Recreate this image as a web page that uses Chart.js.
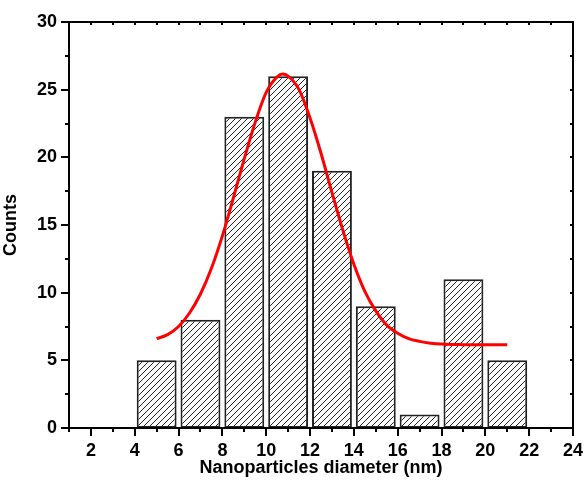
<!DOCTYPE html>
<html>
<head>
<meta charset="utf-8">
<script src="https://cdn.jsdelivr.net/npm/chart.js@4"></script>
<style>
html,body{margin:0;padding:0;background:#fff;}
canvas{display:block;}
</style>
</head>
<body>
<canvas id="c" width="587" height="483"></canvas>
<script>
// ---- data ----
const binCenters = [5, 7, 9, 11, 13, 15, 17, 19, 21];
const counts = [5, 8, 23, 26, 19, 9, 1, 11, 5];
const fitX = [5, 5.5, 6, 6.5, 7, 7.5, 8, 8.5, 9, 9.5, 10, 10.5, 10.75, 11, 11.5, 12, 12.5, 13, 13.5, 14, 14.5, 15, 15.5, 16, 16.5, 17, 17.5, 18, 19, 20, 21];
const fitY = [6.6, 6.9, 7.5, 8.5, 9.9, 11.8, 14.2, 17.0, 19.9, 22.6, 24.8, 25.95, 26.15, 26.0, 25.0, 22.9, 20.3, 17.4, 14.6, 12.1, 10.1, 8.65, 7.6, 7.0, 6.6, 6.4, 6.27, 6.2, 6.16, 6.15, 6.15];
const xTicks = [2, 4, 6, 8, 10, 12, 14, 16, 18, 20, 22, 24];
const xMinorTicks = [1, 3, 5, 7, 9, 11, 13, 15, 17, 19, 21, 23];
const yTicks = [0, 5, 10, 15, 20, 25, 30];
const yMinorTicks = [2.5, 7.5, 12.5, 17.5, 22.5, 27.5];
const xTitle = 'Nanoparticles diameter (nm)';
const yTitle = 'Counts';

// hatch pattern
function makeHatch() {
  const s = 6;
  const pc = document.createElement('canvas');
  pc.width = s; pc.height = s;
  const g = pc.getContext('2d');
  g.fillStyle = '#fff';
  g.fillRect(0, 0, s, s);
  g.strokeStyle = '#222';
  g.lineWidth = 1;
  g.beginPath();
  g.moveTo(0, s); g.lineTo(s, 0);
  g.moveTo(-1, 1); g.lineTo(1, -1);
  g.moveTo(s - 1, s + 1); g.lineTo(s + 1, s - 1);
  g.stroke();
  return document.getElementById('c').getContext('2d').createPattern(pc, 'repeat');
}

const FONT = {family: '"Liberation Sans", Arial, sans-serif', size: 18, weight: 'bold'};

const frame = {
  id: 'frame',
  afterDatasetsDraw(chart) {
    const ctx = chart.ctx;
    const a = chart.chartArea;
    const xs = chart.scales.x, ys = chart.scales.y;
    ctx.save();
    ctx.strokeStyle = '#000';
    ctx.lineWidth = 2;
    ctx.strokeRect(a.left, a.top, a.right - a.left, a.bottom - a.top);
    ctx.beginPath();
    xTicks.forEach(v => { const p = Math.round(xs.getPixelForValue(v)); ctx.moveTo(p, a.bottom); ctx.lineTo(p, a.bottom + 8); });
    xMinorTicks.forEach(v => { const p = Math.round(xs.getPixelForValue(v)); ctx.moveTo(p, a.bottom); ctx.lineTo(p, a.bottom + 4); });
    yTicks.forEach(v => { const p = Math.round(ys.getPixelForValue(v)); ctx.moveTo(a.left, p); ctx.lineTo(a.left - 8, p); });
    yMinorTicks.forEach(v => { const p = Math.round(ys.getPixelForValue(v)); ctx.moveTo(a.left, p); ctx.lineTo(a.left - 4, p); });
    xTicks.concat(xMinorTicks).forEach(v => { const p = Math.round(xs.getPixelForValue(v)); ctx.moveTo(p, a.top); ctx.lineTo(p, a.top + 3); });
    yTicks.concat(yMinorTicks).forEach(v => { const p = Math.round(ys.getPixelForValue(v)); ctx.moveTo(a.right, p); ctx.lineTo(a.right - 3, p); });
    ctx.stroke();
    ctx.restore();
  }
};

new Chart(document.getElementById('c'), {
  type: 'bar',
  data: {
    datasets: [
      {
        type: 'line',
        data: fitX.map((x, i) => ({x: x, y: fitY[i]})),
        borderColor: '#ff0000',
        borderWidth: 3,
        pointRadius: 0,
        fill: false,
        cubicInterpolationMode: 'monotone',
        order: 0
      },
      {
        type: 'bar',
        data: binCenters.map((x, i) => ({x: x, y: counts[i]})),
        backgroundColor: makeHatch(),
        borderColor: '#222',
        borderWidth: 2,
        borderSkipped: false,
        categoryPercentage: 1,
        barPercentage: 0.91,
        order: 1
      }
    ]
  },
  options: {
    responsive: false,
    animation: false,
    devicePixelRatio: 1,
    layout: {padding: {top: 22, right: 14, left: 0, bottom: 0}},
    plugins: {legend: {display: false}, tooltip: {enabled: false}},
    scales: {
      x: {
        type: 'linear',
        min: 1, max: 24,
        offset: false,
        grid: {display: false, drawTicks: false},
        border: {display: false},
        afterBuildTicks(scale) { scale.ticks = xTicks.map(v => ({value: v})); },
        afterFit(scale) { scale.height = 55; scale.paddingLeft = 0; scale.paddingRight = 0; },
        ticks: {color: '#000', font: FONT, padding: 12, maxRotation: 0, autoSkip: false},
        title: {display: true, text: xTitle, color: '#000', font: FONT, padding: {top: 0, bottom: 4}}
      },
      y: {
        type: 'linear',
        min: 0, max: 30,
        grid: {display: false, drawTicks: false},
        border: {display: false},
        afterBuildTicks(scale) { scale.ticks = yTicks.map(v => ({value: v})); },
        afterFit(scale) { scale.width = 69; scale.paddingTop = 0; scale.paddingBottom = 0; },
        ticks: {color: '#000', font: FONT, padding: 12},
        title: {display: true, text: yTitle, color: '#000', font: FONT, padding: {top: 0, bottom: 11}}
      }
    }
  },
  plugins: [frame]
});
</script>
</body>
</html>
